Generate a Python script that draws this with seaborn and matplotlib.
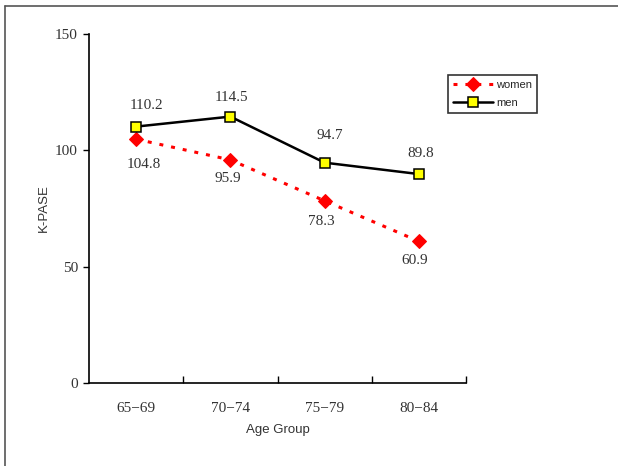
import matplotlib
matplotlib.use("Agg")
import matplotlib.pyplot as plt
import seaborn as sns
import pandas as pd
from matplotlib.lines import Line2D

categories = ["65-69", "70-74", "75-79", "80-84"]
tick_labels = ["65\u221269", "70\u221274", "75\u221279", "80\u221284"]
women = [104.8, 95.9, 78.3, 60.9]
men = [110.2, 114.5, 94.7, 89.8]
y_ticks = [0, 50, 100, 150]

sns.set_theme(style="white")
plt.rcParams['font.family'] = ['Liberation Sans', 'DejaVu Sans']

fig = plt.figure(figsize=(6.18, 4.66), dpi=100)
ax = fig.add_axes([89/618, 1-383/466, (466-89)/618, (383-34)/466])

xpos = list(range(len(categories)))
df_w = pd.DataFrame({"x": xpos, "y": women})
df_m = pd.DataFrame({"x": xpos, "y": men})

sns.lineplot(data=df_w, x="x", y="y", ax=ax, color="#ff0000", linewidth=2.2,
             linestyle=(0, (1.3, 2.6)), marker="D", markersize=7,
             markerfacecolor="#ff0000", markeredgecolor="#ff0000", label="women")
sns.lineplot(data=df_m, x="x", y="y", ax=ax, color="black", linewidth=1.8,
             marker="s", markersize=6.8, markerfacecolor="#ffff00",
             markeredgecolor="black", markeredgewidth=1.1, label="men")

serif = ['Liberation Serif', 'DejaVu Serif']
# label offsets in pixels (dx, dy), dy positive = up
w_off = [(8, -25), (-3, -19), (-3, -21), (-4, -19)]
m_off = [(10, 21), (1, 19), (5, 27), (2, 21)]
px = 72/100
for i, v in enumerate(women):
    ax.annotate(f"{v:.1f}", (i, v), xytext=(w_off[i][0]*px, w_off[i][1]*px),
                textcoords="offset points", ha="center", va="center",
                fontsize=11, family=serif, color="#333333")
for i, v in enumerate(men):
    ax.annotate(f"{v:.1f}", (i, v), xytext=(m_off[i][0]*px, m_off[i][1]*px),
                textcoords="offset points", ha="center", va="center",
                fontsize=11, family=serif, color="#333333")

ax.set_xlim(-0.5, 3.5)
ax.set_ylim(0, 150)
ax.set_yticks(y_ticks)
ax.set_yticklabels([str(t) for t in y_ticks], family=serif, fontsize=11, color="#333333")
ax.set_xticks(xpos)
ax.set_xticklabels(tick_labels, family=serif, fontsize=11, color="#333333")
ax.set_xticks([0.5, 1.5, 2.5, 3.5], minor=True)
ax.tick_params(axis="x", which="major", length=0, pad=14)
ax.tick_params(axis="x", which="minor", direction="in", length=5, width=1, color="black", bottom=True)
ax.tick_params(axis="y", which="major", direction="out", length=4, width=1, color="black", left=True, pad=4)

for s in ["top", "right"]:
    ax.spines[s].set_visible(False)
for s in ["left", "bottom"]:
    ax.spines[s].set_color("black")
    ax.spines[s].set_linewidth(1.2)

ax.set_xlabel("Age Group", fontsize=9.5, color="#333333", labelpad=6)
ax.set_ylabel("K-PASE", fontsize=9.5, color="#333333", labelpad=4)

leg = ax.legend(loc="upper left", bbox_to_anchor=(448/618, 1-75/466),
                bbox_transform=fig.transFigure, frameon=True, fancybox=False,
                fontsize=8, handlelength=3.6, handletextpad=0.3,
                borderpad=0.45, labelspacing=0.75, borderaxespad=0)
leg.get_frame().set_edgecolor("black")
leg.get_frame().set_linewidth(1.2)

# figure border (top and left visible)
fig.add_artist(Line2D([5/618, 1], [1-6/466, 1-6/466], transform=fig.transFigure, color="#555555", lw=1.2))
fig.add_artist(Line2D([5/618, 5/618], [0, 1-6/466], transform=fig.transFigure, color="#555555", lw=1.2))

fig.savefig("out.png", dpi=100)
